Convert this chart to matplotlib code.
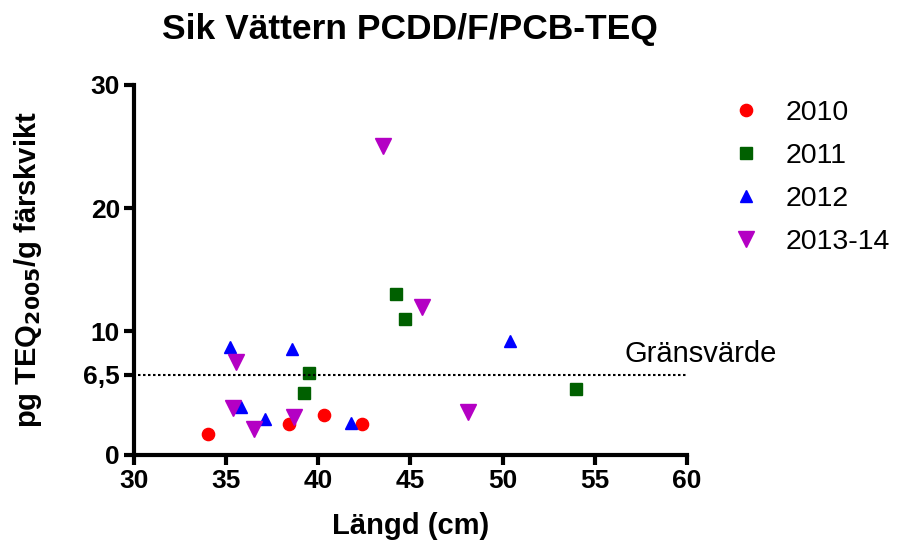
import matplotlib.pyplot as plt

plt.rcParams['font.family'] = ['Liberation Sans', 'DejaVu Sans']

# data
x_2010 = [34.0, 38.4, 40.3, 42.4]
y_2010 = [1.7, 2.5, 3.2, 2.5]

x_2011 = [39.2, 39.5, 44.2, 44.7, 54.0]
y_2011 = [5.0, 6.6, 13.0, 11.0, 5.3]

x_2012 = [35.2, 35.8, 37.1, 38.6, 41.8, 50.4]
y_2012 = [8.75, 3.9, 2.9, 8.55, 2.6, 9.2]

x_2013 = [35.4, 35.55, 36.5, 38.7, 43.5, 45.65, 48.15]
y_2013 = [3.75, 7.5, 2.05, 3.05, 25.0, 12.0, 3.5]

grans = 6.5
yticks = [0, 6.5, 10, 20, 30]
ytick_labels = ['0', '6,5', '10', '20', '30']


def plot_chart():
    fig = plt.figure(figsize=(8.99, 5.40), dpi=100)
    ax = fig.add_axes([0.149, 0.158, 0.615, 0.685])

    ax.plot(x_2010, y_2010, 'o', color='#ff0000', markersize=8.8, label='2010')
    ax.plot(x_2011, y_2011, 's', color='#006000', markersize=9.2, label='2011')
    ax.plot(x_2012, y_2012, '^', color='#0000ff', markersize=9.0, label='2012')
    ax.plot(x_2013, y_2013, 'v', color='#b400c4', markersize=11, label='2013-14')

    ax.plot([30.2, 60], [grans, grans], color='black', linestyle=(0, (1.2, 1.2)), linewidth=1.5)
    ax.text(56.6, grans + 0.55, 'Gränsvärde', fontsize=21, ha='left', va='bottom')

    ax.set_xlim(30, 60)
    ax.set_ylim(0, 30)
    ax.set_xticks(range(30, 61, 5))
    ax.set_yticks(yticks)
    ax.set_yticklabels(ytick_labels)

    for s in ['top', 'right']:
        ax.spines[s].set_visible(False)
    for s in ['left', 'bottom']:
        ax.spines[s].set_linewidth(3)
    ax.tick_params(width=3, length=7, labelsize=19, pad=3)
    for lbl in ax.get_xticklabels() + ax.get_yticklabels():
        lbl.set_fontweight('bold')

    ax.set_xlabel('Längd (cm)', fontsize=21, fontweight='bold', labelpad=14)
    ax.set_ylabel('pg TEQ$_{\\mathbf{2005}}$/g färskvikt', fontsize=21, fontweight='bold', labelpad=28)
    fig.text(0.456, 0.946, 'Sik Vättern PCDD/F/PCB-TEQ', ha='center', va='center',
             fontsize=25.5, fontweight='bold')

    fig.legend(loc='upper left', bbox_to_anchor=(0.785, 0.862), frameon=False,
               fontsize=20.5, handletextpad=0.9, labelspacing=0.6, handlelength=1.0)

    fig.savefig('out.png', dpi=100)


if __name__ == "__main__":
    plot_chart()
